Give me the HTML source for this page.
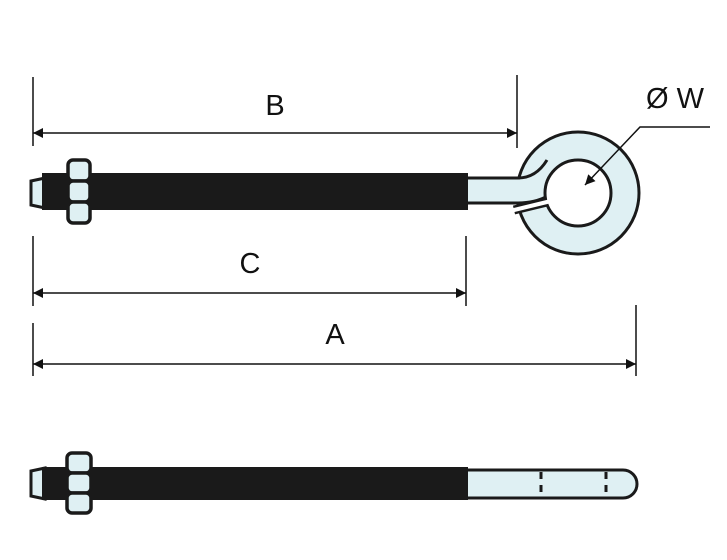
<!DOCTYPE html>
<html><head><style>body{margin:0;background:#fff}svg{display:block}</style></head><body>
<svg width="727" height="560" viewBox="0 0 727 560" xmlns="http://www.w3.org/2000/svg">
<defs>
<marker id="ar" viewBox="0 0 10 10" refX="10" refY="5" markerWidth="22" markerHeight="10" markerUnits="userSpaceOnUse" orient="auto-start-reverse"><path d="M0,0L10,5L0,10z" fill="#111"/></marker>
</defs>
<g stroke="#111" stroke-width="1.5" fill="none">
<line x1="33" y1="77" x2="33" y2="146"/><line x1="517" y1="75" x2="517" y2="148"/>
<line x1="33" y1="133" x2="517" y2="133" marker-start="url(#ar)" marker-end="url(#ar)"/>
<line x1="33" y1="236" x2="33" y2="306"/><line x1="466" y1="236" x2="466" y2="306"/>
<line x1="33" y1="293" x2="466" y2="293" marker-start="url(#ar)" marker-end="url(#ar)"/>
<line x1="33" y1="323" x2="33" y2="376"/><line x1="636" y1="305" x2="636" y2="376"/>
<line x1="33" y1="364" x2="636" y2="364" marker-start="url(#ar)" marker-end="url(#ar)"/>
</g>
<g font-family="Liberation Sans, sans-serif" font-size="29" fill="#111" text-anchor="middle">
<text x="275" y="115">B</text><text x="250" y="273">C</text><text x="335" y="344">A</text><text x="675" y="108">Ø W</text>
</g>
<!-- top bolt ring -->
<circle cx="578" cy="193" r="61" fill="#dff0f3" stroke="#1a1a1a" stroke-width="3"/>
<path d="M466,179.5 L518,179.5 Q538,179 549,160 L552,201 Q535,201.5 518,201.5 L466,201.5 Z" fill="#dff0f3"/>
<path d="M466,178 L518,178 Q536,178 547,160" fill="none" stroke="#1a1a1a" stroke-width="3"/>
<path d="M466,203 L518,203 Q535,203 548,196" fill="none" stroke="#1a1a1a" stroke-width="3"/>
<circle cx="578" cy="193" r="33" fill="#fff" stroke="#1a1a1a" stroke-width="3"/>
<path d="M514,210 L547,202" stroke="#1a1a1a" stroke-width="9"/>
<path d="M512,210.5 L549,201.5" stroke="#fff" stroke-width="4"/>
<path d="M31,181 L45,178 L45,208 L31,205 Z" fill="#dff0f3" stroke="#1a1a1a" stroke-width="3"/>
<rect x="42" y="173" width="426" height="37" fill="#1a1a1a"/>
<g stroke="#1a1a1a" stroke-width="3.5" fill="#dff0f3">
<rect x="68" y="160" width="22" height="21" rx="5"/><rect x="68" y="181" width="22" height="21" rx="5"/><rect x="68" y="202" width="22" height="21" rx="5"/>
</g>
<g stroke="#111" stroke-width="1.5" fill="none">
<polyline points="710,127 640,127 585,185" marker-end="url(#ar)"/>
</g>
<!-- bottom bolt -->
<g stroke="#1a1a1a" stroke-width="3">
<path d="M466,470 L623,470 A14,14 0 0,1 623,498 L466,498 Z" fill="#dff0f3"/>
<path d="M31,471 L45,468 L45,499 L31,496 Z" fill="#dff0f3"/>
</g>
<rect x="42" y="467" width="426" height="33" fill="#1a1a1a"/>
<g stroke="#1a1a1a" stroke-width="3.5" fill="#dff0f3">
<rect x="67" y="453" width="24" height="20" rx="5"/><rect x="67" y="473" width="24" height="20" rx="5"/><rect x="67" y="493" width="24" height="20" rx="5"/>
</g>
<g stroke="#1a1a1a" stroke-width="3">
<line x1="541" y1="472" x2="541" y2="479"/><line x1="541" y1="485" x2="541" y2="492"/>
<line x1="606" y1="472" x2="606" y2="479"/><line x1="606" y1="485" x2="606" y2="492"/>
</g>
</svg>
</body></html>
